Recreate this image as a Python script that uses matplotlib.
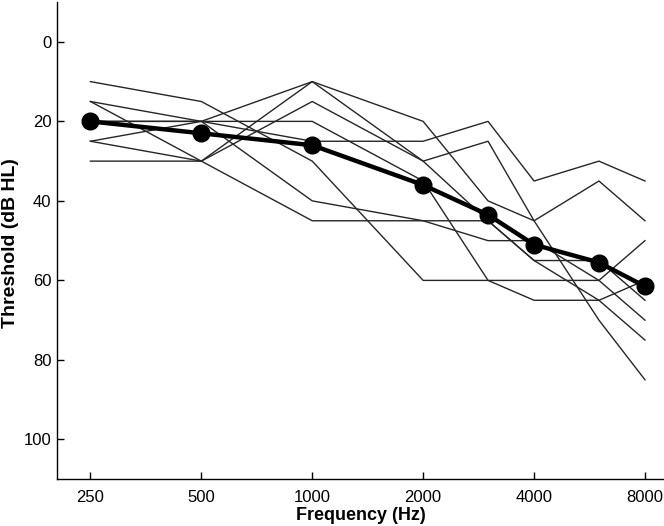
import numpy as np
import matplotlib
matplotlib.use("Agg")
import matplotlib.pyplot as plt

plt.rcParams['font.family'] = ['Liberation Sans', 'DejaVu Sans']

# audiometric frequencies (Hz)
freqs = [250, 500, 1000, 2000, 3000, 4000, 6000, 8000]

# individual thresholds (dB HL)
subj_a = [10, 15, 30, 60, 60, 60, 60, 50]
subj_b = [15, 20, 25, 25, 20, 35, 30, 35]
subj_c = [15, 30, 45, 45, 45, 55, 55, 65]
subj_d = [20, 20, 20, 35, 60, 65, 65, 60]
subj_e = [20, 20, 40, 45, 50, 50, 60, 70]
subj_f = [25, 20, 10, 20, 40, 45, 70, 85]
subj_g = [25, 30, 10, 30, 45, 55, 65, 75]
subj_h = [30, 30, 15, 30, 25, 45, 35, 45]
subjects = [subj_a, subj_b, subj_c, subj_d, subj_e, subj_f, subj_g, subj_h]

# group mean
mean_thr = [20, 23, 26, 36, 43.5, 51, 55.5, 61.5]

xtick_vals = [250, 500, 1000, 2000, 4000, 8000]
ytick_vals = [0, 20, 40, 60, 80, 100]

fig = plt.figure(figsize=(6.64, 5.26), dpi=100)
ax = fig.add_axes([0.086, 0.089, 0.914, 0.907])

for s in subjects:
    ax.plot(freqs, s, color='#262626', lw=1.0)

ax.plot(freqs, mean_thr, color='black', lw=3.2, marker='o', ms=12,
        markerfacecolor='black', markeredgecolor='black', zorder=5)

ax.set_xscale('log')
ax.set_xlim(203, 9010)
ax.set_ylim(110, -10)
ax.set_xticks(xtick_vals)
ax.set_xticklabels([str(v) for v in xtick_vals])
ax.xaxis.set_minor_locator(matplotlib.ticker.NullLocator())
ax.set_yticks(ytick_vals)

ax.spines['top'].set_visible(False)
ax.spines['right'].set_visible(False)
for sp in ['left', 'bottom']:
    ax.spines[sp].set_linewidth(1.0)
ax.tick_params(direction='in', length=5, width=1.0, labelsize=12)
ax.tick_params(axis='x', pad=8)
ax.tick_params(axis='y', pad=4)

ax.set_xlabel('Frequency (Hz)', fontsize=13, fontweight='bold', labelpad=1)
ax.set_ylabel('Threshold (dB HL)', fontsize=14, fontweight='bold')
ax.yaxis.set_label_coords(-0.062, 0.495)

fig.savefig('out.png', dpi=100)
